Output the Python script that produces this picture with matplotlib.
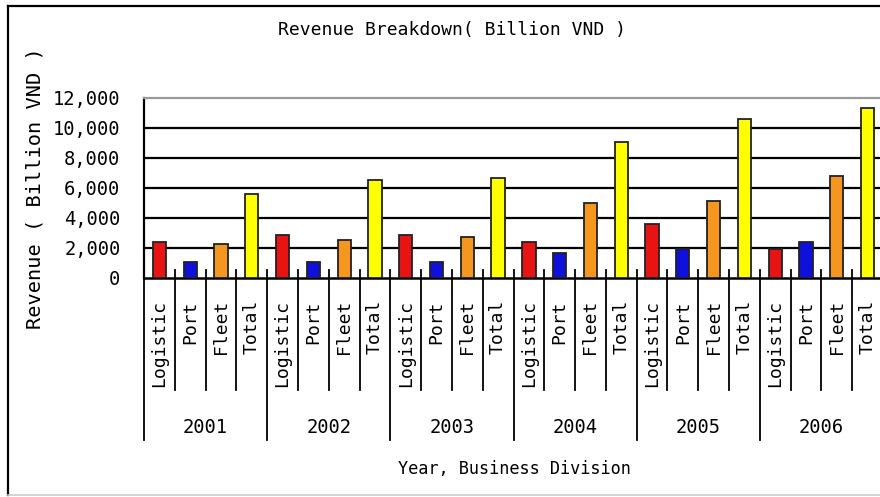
import matplotlib
matplotlib.use("Agg")
import matplotlib.pyplot as plt
from matplotlib.lines import Line2D

# Revenue by business division per year (billion VND)
years = ["2001", "2002", "2003", "2004", "2005", "2006"]
divisions = ["Logistic", "Port", "Fleet", "Total"]
logistic = [2400, 2850, 2850, 2400, 3600, 1900]
port = [1050, 1050, 1050, 1620, 1900, 2400]
fleet = [2250, 2530, 2700, 4950, 5100, 6800]
total = [5600, 6500, 6650, 9050, 10550, 11300]
y_ticks = [0, 2000, 4000, 6000, 8000, 10000, 12000]

series = [logistic, port, fleet, total]
colors = ["#E81414", "#1010DC", "#F5961E", "#FFFF00"]

plt.rcParams["font.family"] = ["DejaVu Sans Mono", "DejaVu Sans"]

W, H = 880, 497
fig = plt.figure(figsize=(W / 100, H / 100), dpi=100)
fig.patch.set_facecolor("white")

# outer frame of the chart area
fig.add_artist(Line2D([8 / W, 8 / W], [2 / H, 1 - 6 / H], color="black", lw=1.6,
                      transform=fig.transFigure))
fig.add_artist(Line2D([8 / W, 1.0], [1 - 6 / H, 1 - 6 / H], color="black", lw=1.6,
                      transform=fig.transFigure))
fig.add_artist(Line2D([8 / W, 1.0], [2 / H, 2 / H], color="#cccccc", lw=1.2,
                      transform=fig.transFigure))

ax = fig.add_axes([144 / W, (H - 277.7) / H, 739 / W, 180 / H])
n_div = len(divisions)
n_cat = len(years) * n_div
ax.set_xlim(0, n_cat)
ax.set_ylim(y_ticks[0], y_ticks[-1])

# horizontal gridlines
for v in y_ticks[1:-1]:
    ax.axhline(v, color="black", lw=1.6, zorder=1)

for d, (vals, col) in enumerate(zip(series, colors)):
    xs = [g * n_div + d + 0.5 for g in range(len(years))]
    ax.bar(xs, vals, width=0.43, color=col, edgecolor="#222222", lw=1.3, zorder=3)

ax.set_yticks(y_ticks)
ax.set_yticklabels([f"{v:,}" for v in y_ticks])
ax.tick_params(axis="y", length=0, pad=17, labelsize=13.5)
ax.set_xticks([])

ax.spines["right"].set_visible(False)
ax.spines["top"].set_color("#9a9a9a")
ax.spines["top"].set_linewidth(1.6)
ax.spines["left"].set_color("black")
ax.spines["left"].set_linewidth(1.6)
ax.spines["bottom"].set_color("black")
ax.spines["bottom"].set_linewidth(1.8)

xt = ax.get_xaxis_transform()
# category / year separators below the axis
for i in range(n_cat + 1):
    low = -0.90 if i % n_div == 0 else -0.624
    ax.add_line(Line2D([i, i], [0.043, low], color="black", lw=1.3,
                       transform=xt, clip_on=False, zorder=4))

for g in range(len(years)):
    for d, name in enumerate(divisions):
        ax.text(g * n_div + d + 0.5, -0.124, name, rotation=90, ha="center",
                va="top", fontsize=13, transform=xt)
    ax.text(g * n_div + n_div / 2, -0.83, years[g], ha="center", va="center",
            fontsize=13.5, transform=xt)

fig.text(452 / W, 1 - 30 / H, "Revenue Breakdown( Billion VND )", ha="center",
         va="center", fontsize=13)
fig.text(35 / W, 1 - 188 / H, "Revenue ( Billion VND )", rotation=90,
         ha="center", va="center", fontsize=14.6)
fig.text(514 / W, 1 - 469 / H, "Year, Business Division", ha="center",
         va="center", fontsize=12.2)

fig.savefig("out.png", dpi=100)
